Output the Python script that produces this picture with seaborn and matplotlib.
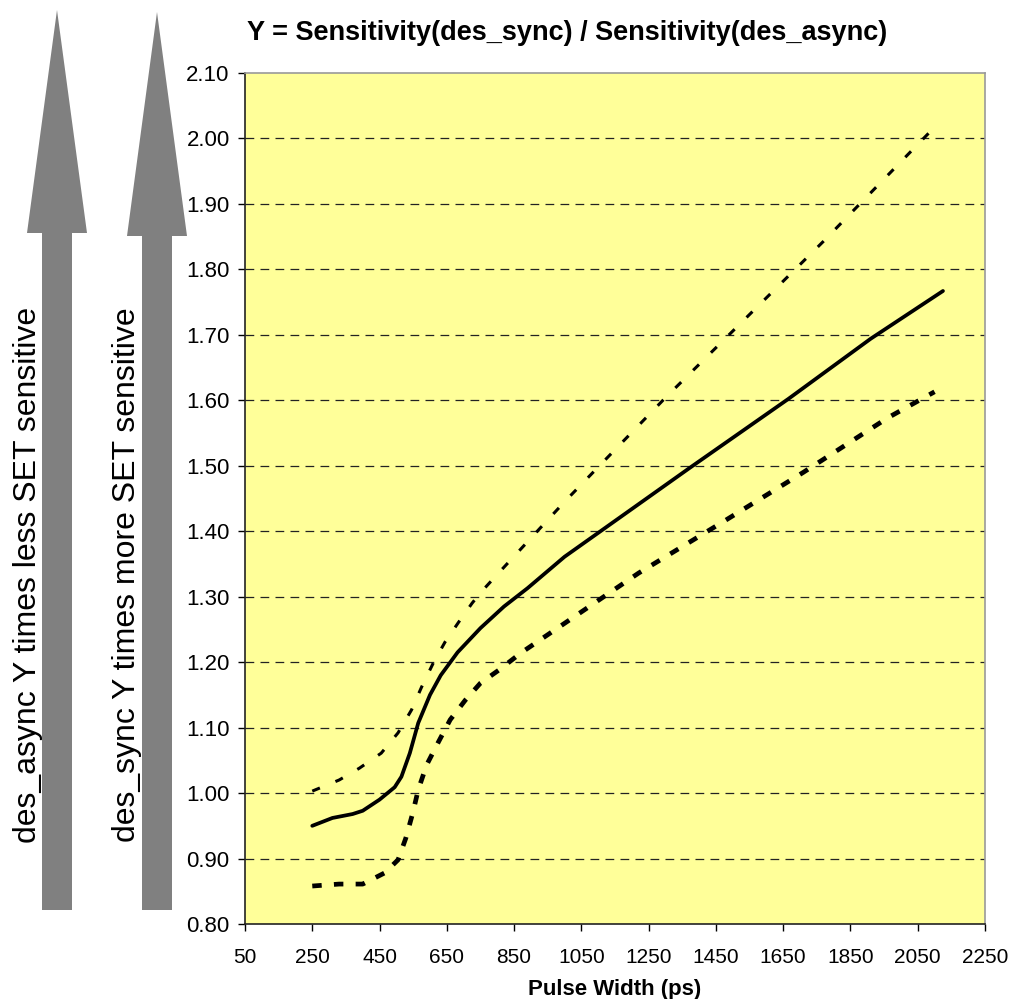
import numpy as np
import pandas as pd
import matplotlib
matplotlib.use('Agg')
import matplotlib.pyplot as plt
from matplotlib.patches import Polygon
import seaborn as sns

# Pulse width (ps) and sensitivity ratio
mid_x = [250, 310, 370, 400, 450, 495, 515, 540, 565, 600, 632, 682, 750, 820, 890, 1000, 1370, 1665, 1910, 2125]
mid_y = [0.950, 0.962, 0.968, 0.973, 0.990, 1.009, 1.025, 1.061, 1.107, 1.150, 1.180, 1.215, 1.252, 1.285, 1.313, 1.361, 1.496, 1.602, 1.694, 1.767]

upper_x = [250, 330, 390, 455, 505, 545, 575, 610, 645, 685, 725, 750, 800, 1000, 1300, 1770, 2090]
upper_y = [1.003, 1.020, 1.038, 1.061, 1.092, 1.127, 1.162, 1.199, 1.231, 1.261, 1.290, 1.306, 1.334, 1.445, 1.604, 1.843, 2.012]

lower_x = [250, 330, 400, 465, 505, 528, 549, 565, 590, 625, 660, 705, 750, 805, 870, 1220, 1470, 1710, 1960, 2100]
lower_y = [0.858, 0.861, 0.861, 0.878, 0.898, 0.931, 0.970, 1.005, 1.043, 1.078, 1.112, 1.142, 1.168, 1.188, 1.214, 1.336, 1.414, 1.490, 1.573, 1.613]

x_ticks = list(range(50, 2251, 200))
y_ticks = [round(0.8 + 0.1 * i, 2) for i in range(14)]

sns.set_style("white")
plt.rcParams['font.family'] = ['Liberation Sans', 'DejaVu Sans']
plt.rcParams['text.color'] = 'black'
plt.rcParams['axes.labelcolor'] = 'black'
plt.rcParams['xtick.color'] = 'black'
plt.rcParams['ytick.color'] = 'black'

W, H = 1012, 999
fig = plt.figure(figsize=(W / 100, H / 100), dpi=100)
ax = fig.add_axes([245 / W, 1 - 924 / H, (985 - 245) / W, (924 - 73) / H])
ax.set_facecolor('#FFFF99')

# horizontal dashed grid
for v in y_ticks[1:-1]:
    ax.axhline(v, color='#222222', lw=0.9, ls=(0, (7, 5)), zorder=1)

df_mid = pd.DataFrame({'x': mid_x, 'y': mid_y})
df_up = pd.DataFrame({'x': upper_x, 'y': upper_y})
df_lo = pd.DataFrame({'x': lower_x, 'y': lower_y})

sns.lineplot(data=df_mid, x='x', y='y', ax=ax, color='black', lw=2.7, sort=False, zorder=3)
l_up = sns.lineplot(data=df_up, x='x', y='y', ax=ax, color='black', lw=2.2, sort=False, zorder=3).lines[-1]
l_up.set_dashes((2.7, 5.5))
l_lo = sns.lineplot(data=df_lo, x='x', y='y', ax=ax, color='black', lw=3.4, sort=False, zorder=3).lines[-1]
l_lo.set_dashes((2.0, 2.6))

ax.set_xlim(50, 2250)
ax.set_ylim(0.8, 2.1)
ax.set_xticks(x_ticks)
ax.set_yticks(y_ticks)
ax.set_yticklabels([f'{v:.2f}' for v in y_ticks], fontsize=16)
ax.set_xticklabels([str(v) for v in x_ticks], fontsize=15)
ax.tick_params(axis='both', direction='out', length=5, width=1, color='black',
               left=True, bottom=True)
ax.tick_params(axis='x', pad=12)
ax.tick_params(axis='y', pad=6)
for s in ['top', 'right']:
    ax.spines[s].set_color('#999999')
    ax.spines[s].set_linewidth(1.2)
for s in ['left', 'bottom']:
    ax.spines[s].set_color('#222222')
    ax.spines[s].set_linewidth(1.2)

ax.set_xlabel('Pulse Width (ps)', fontsize=16, fontweight='bold', labelpad=9)
ax.set_ylabel('')
fig.text(567 / W, 1 - 33 / H, 'Y = Sensitivity(des_sync) / Sensitivity(des_async)',
         fontsize=19.5, fontweight='bold', ha='center', va='center')


# big gray arrows on the left
def arrow(cx, tip_y, base_y, bottom_y):
    pts = [(cx - 15, bottom_y), (cx + 15, bottom_y), (cx + 15, base_y), (cx + 30, base_y),
           (cx, tip_y), (cx - 30, base_y), (cx - 15, base_y)]
    pts = [(px / W, 1 - py / H) for px, py in pts]
    fig.patches.append(Polygon(pts, closed=True, facecolor='#808080', edgecolor='none',
                               transform=fig.transFigure, figure=fig))


arrow(57, 10, 233, 910)
arrow(157, 12, 236, 910)

fig.text(28 / W, 1 - 575 / H, 'des_async Y times less SET sensitive', rotation=90,
         fontsize=23, ha='center', va='center')
fig.text(127 / W, 1 - 575 / H, 'des_sync Y times more SET sensitive', rotation=90,
         fontsize=23, ha='center', va='center')

fig.savefig('out.png', dpi=100)
